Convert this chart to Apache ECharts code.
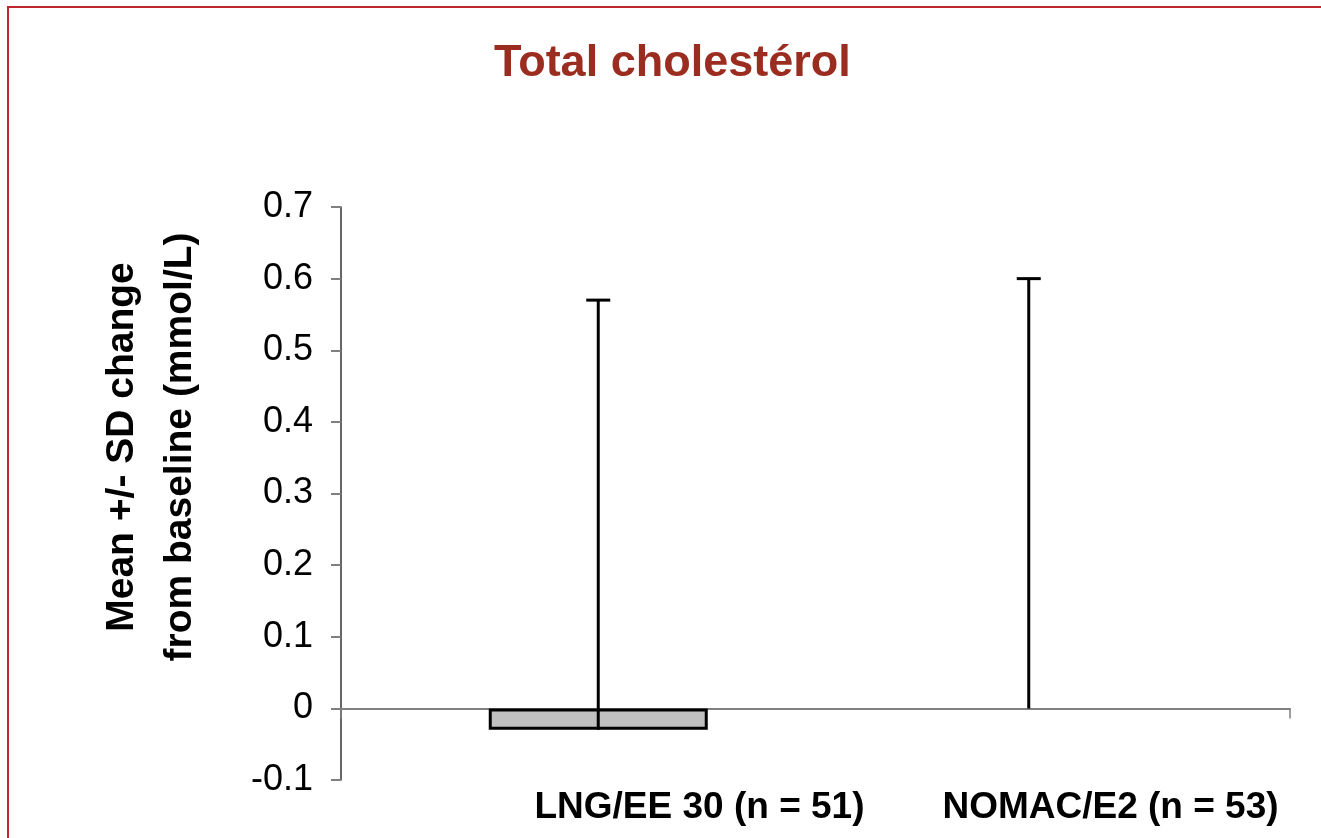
<!DOCTYPE html>
<html>
<head>
<meta charset="utf-8">
<script src="https://cdn.jsdelivr.net/npm/echarts@6/dist/echarts.min.js"></script>
<style>
  html, body { margin: 0; padding: 0; background: #ffffff; }
  #chart { width: 1321px; height: 838px; }
</style>
</head>
<body>
<div id="chart"></div>
<script>
// Mean change from baseline in total cholesterol (mmol/L), with SD
const groups = ['LNG/EE 30 (n = 51)', 'NOMAC/E2 (n = 53)'];
const means = [-0.03, 0.00];
const sds = [0.60, 0.60];
const yTicks = { min: -0.1, max: 0.7, step: 0.1 };

const FONT = 'Liberation Sans, Arial, Helvetica, sans-serif';

const chart = echarts.init(document.getElementById('chart'), null, { renderer: 'canvas' });

const barData = means.map(v => ({
  value: v,
  // a zero mean leaves no visible bar
  itemStyle: v === 0 ? { borderWidth: 0 } : {}
}));
const errData = means.map((m, i) => [i, m, m + sds[i]]);

const option = {
  backgroundColor: '#ffffff',
  animation: false,
  title: {
    text: 'Total cholestérol',
    left: 489,
    top: 36,
    textStyle: { fontFamily: FONT, fontSize: 45, fontWeight: 'bold', color: '#9b2d20' }
  },
  graphic: [{
    type: 'rect',
    shape: { x: 8, y: 7, width: 1400, height: 900 },
    style: { fill: null, stroke: '#c0282d', lineWidth: 2 },
    silent: true
  }],
  grid: [
    { left: 341, right: 31, top: 207, bottom: 58 },   // axes frame
    { left: 383, right: 77, top: 207, bottom: 58 },   // bars and error bars
    { left: 494, right: 5, top: 207, bottom: 58 }     // group labels
  ],
  xAxis: [
    {
      gridIndex: 0, type: 'value', min: 0, max: 1, interval: 1,
      axisLine: { onZero: true, lineStyle: { color: '#808080', width: 2 } },
      axisTick: { show: true, length: 10, lineStyle: { color: '#808080', width: 1.5 } },
      axisLabel: { show: false },
      splitLine: { show: false }
    },
    { gridIndex: 1, type: 'category', data: groups, show: false },
    {
      gridIndex: 2, type: 'category', data: groups,
      axisLine: { show: false }, axisTick: { show: false },
      axisLabel: {
        interval: 0, margin: 9, fontFamily: FONT, fontSize: 37,
        fontWeight: 'bold', color: '#000000'
      }
    }
  ],
  yAxis: [
    {
      gridIndex: 0, type: 'value', min: yTicks.min, max: yTicks.max, interval: yTicks.step,
      name: 'Mean +/- SD change\nfrom baseline (mmol/L)',
      nameLocation: 'middle', nameRotate: 90, nameGap: 132,
      nameTextStyle: {
        fontFamily: FONT, fontSize: 39, fontWeight: 'bold', color: '#000000',
        lineHeight: 58, align: 'center', padding: [0, 0, 0, 93]
      },
      axisLine: { show: true, lineStyle: { color: '#333333', width: 1.5 } },
      axisTick: { show: true, length: 10, lineStyle: { color: '#808080', width: 2 } },
      axisLabel: {
        margin: 28, fontFamily: FONT, fontSize: 36, color: '#000000',
        formatter: v => String(Math.round(v * 10) / 10)
      },
      splitLine: { show: false }
    },
    { gridIndex: 1, type: 'value', min: yTicks.min, max: yTicks.max, interval: yTicks.step, show: false },
    { gridIndex: 2, type: 'value', min: yTicks.min, max: yTicks.max, interval: yTicks.step, show: false }
  ],
  series: [
    {
      type: 'bar',
      xAxisIndex: 1, yAxisIndex: 1,
      barWidth: 219,
      data: barData,
      itemStyle: { color: '#c0c0c0', borderColor: '#000000', borderWidth: 3 },
      z: 2
    },
    {
      type: 'custom',
      xAxisIndex: 1, yAxisIndex: 1,
      data: errData,
      z: 3,
      renderItem: function (params, api) {
        const x = api.value(0);
        const low = api.coord([x, api.value(1)]);
        const high = api.coord([x, api.value(2)]);
        const cap = 12;
        const st = { stroke: '#000000', lineWidth: 3 };
        return {
          type: 'group',
          children: [
            { type: 'line', shape: { x1: low[0], y1: low[1], x2: high[0], y2: high[1] }, style: st },
            { type: 'line', shape: { x1: high[0] - cap, y1: high[1], x2: high[0] + cap, y2: high[1] }, style: st }
          ]
        };
      }
    }
  ]
};

chart.setOption(option);
</script>
</body>
</html>
